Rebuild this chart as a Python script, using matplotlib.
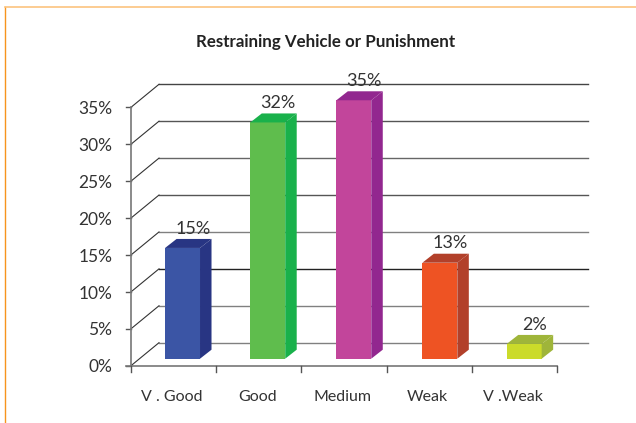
import matplotlib
matplotlib.use('Agg')
import matplotlib.pyplot as plt
from matplotlib.lines import Line2D

categories = ['V . Good', 'Good', 'Medium', 'Weak', 'V .Weak']
values = [15, 32, 35, 13, 2]
y_ticks = [0, 5, 10, 15, 20, 25, 30, 35]
front_colors = ['#3b55a5', '#5fbd4d', '#c2459b', '#ee5323', '#cbdb2a']
side_colors = ['#283583', '#19b14b', '#92278f', '#b2402a', '#9fb53a']
grid_colors = ['#808080', '#808080', '#222222', '#808080', '#555555', '#666666', '#555555', '#444444']

W, H = 636, 423
plt.rcParams['font.family'] = ['Lato', 'DejaVu Sans']

fig = plt.figure(figsize=(W / 100, H / 100), dpi=100)
# axes box in pixels, x is category slots and y is percent
left, right, bottom, top = 131, 557, 365.7, 107.3
ax = fig.add_axes([left / W, 1 - bottom / H, (right - left) / W, (bottom - top) / H])
ax.set_xlim(0, 5)
ax.set_ylim(0, 35)
ax.axis('off')

# depth of the fake 3d, in data units
wall_dx, wall_dy = 28 / 85.2, 23 / 7.38
base_dy = 7 / 7.38
bar_w = 0.41
bar_lefts = [0.40, 1.40, 2.41, 3.42, 4.41]
side_dx, side_dy = 11.5 / 85.2, 9 / 7.38

# back wall lines
for v, c in zip(y_ticks, grid_colors):
    ax.plot([wall_dx, 5.364], [v + wall_dy, v + wall_dy], color=c, lw=1.0, clip_on=False, zorder=1)
    ax.plot([0, wall_dx], [v, v + wall_dy], color='#333333', lw=0.8, clip_on=False, zorder=1)
    ax.plot([-0.06, 0], [v, v], color='#555555', lw=1.0, clip_on=False, zorder=2)

# axis lines
ax.plot([0, 0], [0, 35], color='#777777', lw=1.2, clip_on=False, zorder=2)
ax.plot([-0.06, 5], [0, 0], color='#777777', lw=1.2, clip_on=False, zorder=2)
for i in range(6):
    ax.plot([i, i], [0, -0.8], color='#555555', lw=1.0, clip_on=False, zorder=2)

# bars
for i, v in enumerate(values):
    x0 = bar_lefts[i]
    x1 = x0 + bar_w
    y0 = base_dy
    y1 = v + base_dy
    ax.fill([x0, x1, x1, x0], [y0, y0, y1, y1], color=front_colors[i], lw=0, clip_on=False, zorder=3)
    ax.fill([x1, x1 + side_dx, x1 + side_dx, x1], [y0, y0 + side_dy, y1 + side_dy, y1],
            color=side_colors[i], lw=0, clip_on=False, zorder=3)
    ax.fill([x0, x0 + side_dx, x1 + side_dx, x1], [y1, y1 + side_dy, y1 + side_dy, y1],
            color=side_colors[i], lw=0, clip_on=False, zorder=3)
    ax.annotate(f'{v}%', (x0 + bar_w / 2 + 0.12, y1 + side_dy), xytext=(0, 7.5),
                textcoords='offset points', ha='center', va='center', fontsize=13,
                color='#333333', annotation_clip=False, zorder=4)

for v in y_ticks:
    ax.annotate(f'{v}%', (0, v), xytext=(-13.5, -1.2), textcoords='offset points', ha='right',
                va='center', fontsize=12.5, color='#333333', annotation_clip=False)

for i, c in enumerate(categories):
    ax.annotate(c, (i + 0.48, 0), xytext=(0, -22.5), textcoords='offset points', ha='center',
                va='center', fontsize=11.5, color='#333333', annotation_clip=False)

fig.text(325.5 / W, 1 - 42.5 / H, 'Restraining Vehicle or Punishment', ha='center', va='center',
         fontsize=12.2, fontweight='bold', color='#222222')

# orange page frame
fig.add_artist(Line2D([4.5 / W, 4.5 / W], [0, 1 - 7 / H], color='#f7941d', lw=1.0))
fig.add_artist(Line2D([4.5 / W, 1], [1 - 7.5 / H, 1 - 7.5 / H], color='#fcc47f', lw=1.2))

fig.savefig('out.png', dpi=100)
